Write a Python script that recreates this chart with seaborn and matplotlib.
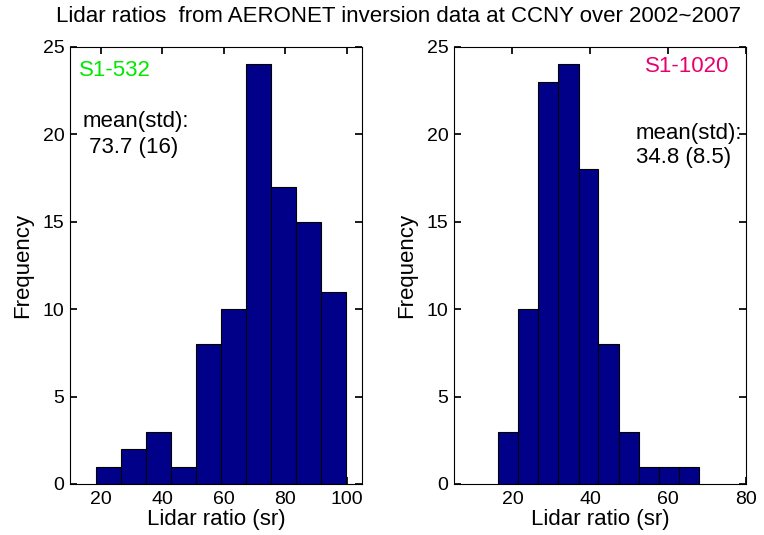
import numpy as np
import pandas as pd
import seaborn as sns
import matplotlib
matplotlib.use("Agg")
import matplotlib.pyplot as plt

# Data
edges_532 = [18.6, 26.7, 34.8, 42.9, 51.0, 59.1, 67.2, 75.3, 83.4, 91.5, 99.7]
counts_532 = [1, 2, 3, 1, 8, 10, 24, 17, 15, 11]
edges_1020 = [16.3, 21.5, 26.6, 31.8, 37.0, 42.1, 47.3, 52.5, 57.6, 62.8, 68.0]
counts_1020 = [3, 10, 23, 24, 18, 8, 3, 1, 1, 1]

title = "Lidar ratios  from AERONET inversion data at CCNY over 2002~2007"
labels = ["S1-532", "S1-1020"]
stat_head = "mean(std):"
stat_vals = [" 73.7 (16)", "34.8 (8.5)"]
xticks_532 = [20, 40, 60, 80, 100]
xticks_1020 = [20, 40, 60, 80]
yticks = [0, 5, 10, 15, 20, 25]

sns.set_theme(style="white")
plt.rcParams['font.family'] = ['Liberation Sans', 'DejaVu Sans']
plt.rcParams.update({"text.color": "black", "axes.labelcolor": "black",
                     "xtick.color": "black", "ytick.color": "black"})

W, H = 764, 535
fig = plt.figure(figsize=(W / 100, H / 100), dpi=100)

def make_ax(l, r, t, b):
    return fig.add_axes([l / W, 1 - b / H, (r - l) / W, (b - t) / H])

def ftext(x, y, s, **kw):
    fig.text(x / W, 1 - y / H, s, **kw)

ax1 = make_ax(70, 362, 47, 484)
ax2 = make_ax(454, 746, 47, 484)

bar_color = "#000088"

def centers(edges):
    e = np.asarray(edges)
    return (e[:-1] + e[1:]) / 2

for ax, edges, counts, xl, xt in [
    (ax1, edges_532, counts_532, (10, 105), xticks_532),
    (ax2, edges_1020, counts_1020, (5, 80), xticks_1020),
]:
    df = pd.DataFrame({"x": centers(edges), "w": counts})
    sns.histplot(data=df, x="x", weights="w", bins=edges, ax=ax,
                 color=bar_color, alpha=1.0, edgecolor="black", linewidth=0.8)
    ax.set_xlim(*xl)
    ax.set_ylim(0, 25)
    ax.set_xticks(xt)
    ax.set_yticks(yticks)
    ax.set_xlabel("Lidar ratio (sr)", fontsize=16, labelpad=1, color="black")
    ax.set_ylabel("Frequency", fontsize=16, labelpad=7, color="black")
    ax.tick_params(direction="in", length=5, top=True, right=True,
                   bottom=True, left=True, labelsize=14, color="black",
                   labelcolor="black", pad=5)
    ax.tick_params(axis="y", pad=4)
    for s in ax.spines.values():
        s.set_color("black")
        s.set_linewidth(0.8)
    ax.set_facecolor("white")

ftext(79, 70, labels[0], color="#00e800", fontsize=16, va="center", ha="left")
ftext(83, 122, stat_head, color="black", fontsize=16, va="center", ha="left")
ftext(83, 147, stat_vals[0], color="black", fontsize=16, va="center", ha="left")
ftext(645, 67, labels[1], color="#e8006e", fontsize=16, va="center", ha="left")
ftext(636, 133, stat_head, color="black", fontsize=16, va="center", ha="left")
ftext(636, 157, stat_vals[1], color="black", fontsize=16, va="center", ha="left")

ftext(398, 16, title, ha="center", va="center", fontsize=16, color="black")

fig.savefig("out.png", dpi=100, facecolor="white")
